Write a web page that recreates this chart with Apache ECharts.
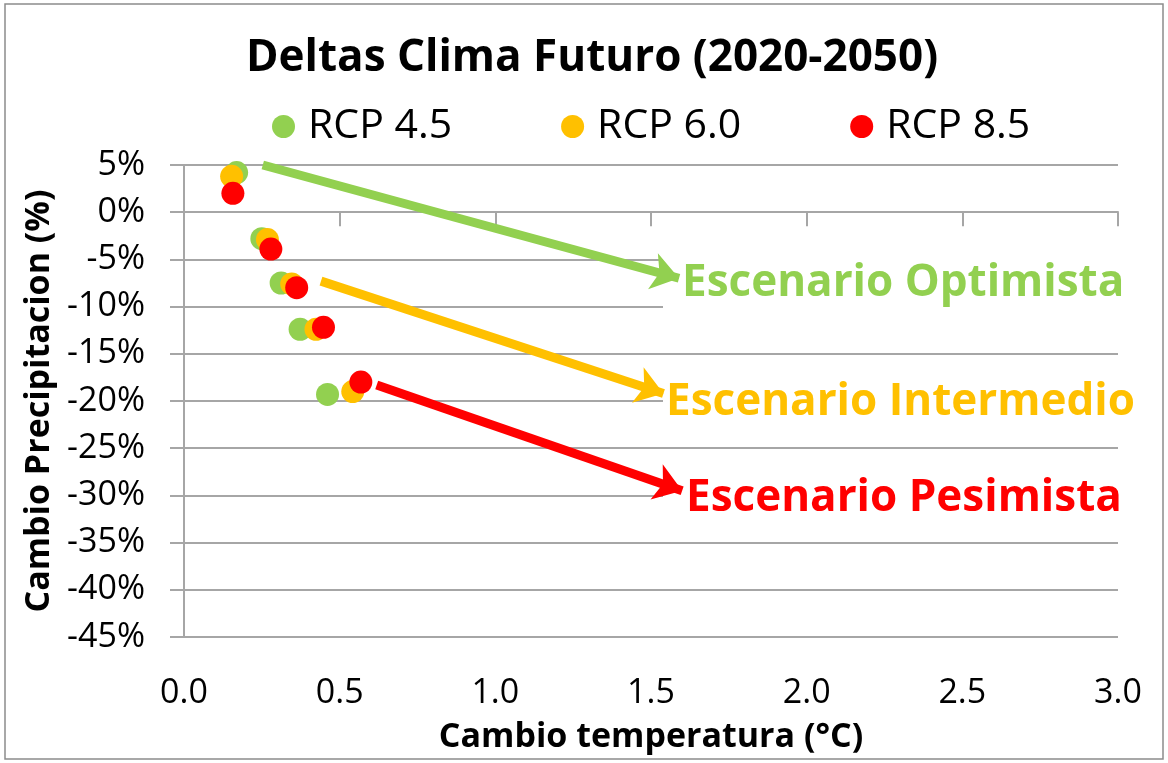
<!DOCTYPE html>
<html>
<head>
<meta charset="utf-8">
<title>Deltas Clima Futuro (2020-2050)</title>
<script src="https://cdn.jsdelivr.net/npm/echarts@6/dist/echarts.min.js"></script>
<style>
  html, body { margin: 0; padding: 0; background: #fff; }
  #chart { width: 1168px; height: 763px; }
</style>
</head>
<body>
<div id="chart"></div>
<script>
// values: [temperatura °C, precipitacion %]
const seriesNames = ['RCP 4.5', 'RCP 6.0', 'RCP 8.5']
const rcp45 = [[0.169, 4.2], [0.250, -2.8], [0.312, -7.5], [0.373, -12.4], [0.461, -19.3]]
const rcp60 = [[0.153, 3.8], [0.268, -2.9], [0.346, -7.6], [0.424, -12.4], [0.542, -19.0]]
const rcp85 = [[0.157, 2.0], [0.279, -3.9], [0.362, -8.0], [0.448, -12.2], [0.568, -18.0]]
const colors = ['#92d050', '#ffc000', '#ff0000']

// arrows (data coords, start -> end) and scenario labels
const arrowLines = [
  [[0.253, 5.0], [1.59, -7.0]],
  [[0.440, -7.3], [1.54, -19.2]],
  [[0.619, -18.3], [1.60, -29.5]]
]
const scenarioLabels = ['Escenario Optimista', 'Escenario Intermedio', 'Escenario Pesimista']

const FONT = '"Open Sans", "DejaVu Sans", sans-serif'
const gridColor = '#a6a6a6'

const chart = echarts.init(document.getElementById('chart'))

function makeSeries(name, data, i) {
  return {
    name: name,
    type: 'scatter',
    data: data,
    symbol: 'circle',
    symbolSize: 23,
    itemStyle: { color: colors[i], opacity: 1 },
    z: 3 + i,
    markLine: {
      silent: true,
      animation: false,
      symbol: ['none', 'arrow'],
      symbolSize: [28, 27],
      label: { show: false },
      lineStyle: { color: colors[i], width: 9, type: 'solid', opacity: 1 },
      emphasis: { disabled: true },
      data: [[{ coord: arrowLines[i][0] }, { coord: arrowLines[i][1] }]]
    }
  }
}

// label boxes (white background hides the gridlines like in Excel)
const labelBoxes = [
  { cy: 283, x: 682 },
  { cy: 402, x: 666 },
  { cy: 498, x: 686 }
]

chart.setOption({
  backgroundColor: '#fff',
  animation: false,
  textStyle: { fontFamily: FONT },
  title: {
    text: 'Deltas Clima Futuro (2020-2050)',
    left: 246,
    top: 36,
    padding: 0,
    textStyle: { fontFamily: FONT, fontSize: 44, fontWeight: 'bold', color: '#000' }
  },
  legend: {
    data: seriesNames,
    left: 272,
    top: 106,
    padding: 0,
    icon: 'circle',
    itemWidth: 23,
    itemHeight: 23,
    itemGap: 109,
    textStyle: { fontFamily: FONT, fontSize: 41, color: '#000', padding: [0, 0, 0, 8] }
  },
  grid: { left: 184, right: 50, top: 165, bottom: 126 },
  xAxis: [{
    type: 'value',
    min: 0,
    max: 3,
    interval: 0.5,
    name: 'Cambio temperatura (°C)',
    nameLocation: 'middle',
    nameGap: 83,
    nameTextStyle: { fontFamily: FONT, fontSize: 34, fontWeight: 'bold', color: '#000' },
    axisLine: { show: false, onZero: false },
    axisTick: { show: false },
    splitLine: { show: false },
    axisLabel: {
      margin: 39,
      fontSize: 34,
      color: '#000',
      fontFamily: FONT,
      formatter: v => v.toFixed(1)
    }
  }, {
    type: 'value',
    min: 0,
    max: 3,
    interval: 0.5,
    position: 'bottom',
    axisLine: { show: true, onZero: true, lineStyle: { color: gridColor, width: 2 } },
    axisTick: { show: true, length: 14, lineStyle: { color: gridColor, width: 2 } },
    axisLabel: { show: false },
    splitLine: { show: false }
  }],
  yAxis: {
    type: 'value',
    min: -45,
    max: 5,
    interval: 5,
    name: 'Cambio Precipitacion (%)',
    nameLocation: 'middle',
    nameGap: 127,
    nameTextStyle: { fontFamily: FONT, fontSize: 34, fontWeight: 'bold', color: '#000' },
    axisLine: { show: true, onZero: false, lineStyle: { color: gridColor, width: 2 } },
    axisTick: { show: true, length: 14, lineStyle: { color: gridColor, width: 2 } },
    splitLine: { show: true, lineStyle: { color: gridColor, width: 2 } },
    axisLabel: {
      margin: 39,
      fontSize: 34,
      color: '#000',
      fontFamily: FONT,
      formatter: v => v + '%'
    }
  },
  graphic: [
    {
      type: 'rect',
      z: 0,
      silent: true,
      shape: { x: 5, y: 4, width: 1158, height: 755 },
      style: { fill: 'none', stroke: '#8c8c8c', lineWidth: 1.5 }
    }
  ].concat(labelBoxes.map((b, i) => ({
    type: 'group',
    z: 1,
    children: [
      {
        type: 'rect',
        z: 1,
        silent: true,
        shape: { x: 663, y: b.cy - 29, width: 490, height: 58 },
        style: { fill: '#fff' }
      },
      {
        type: 'text',
        z: 1,
        silent: true,
        x: b.x,
        y: b.cy,
        style: {
          text: scenarioLabels[i],
          fill: colors[i],
          font: 'bold 44px ' + FONT,
          textVerticalAlign: 'middle',
          verticalAlign: 'middle'
        }
      }
    ]
  }))),
  series: [
    makeSeries(seriesNames[0], rcp45, 0),
    makeSeries(seriesNames[1], rcp60, 1),
    makeSeries(seriesNames[2], rcp85, 2)
  ]
})
</script>
</body>
</html>
